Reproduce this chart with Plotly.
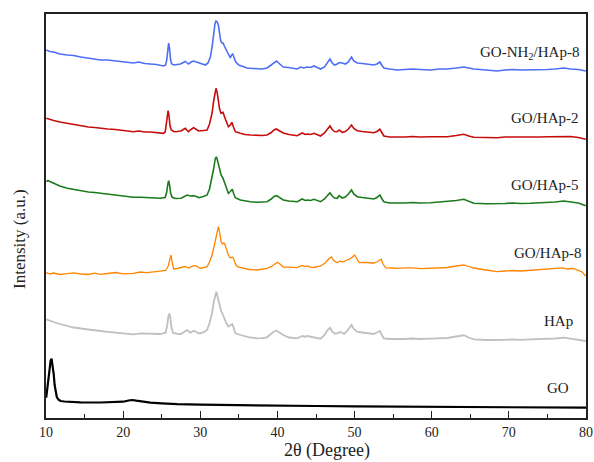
import plotly.graph_objects as go

# ---- data (2θ in degrees, intensity in a.u., already stacked) ----
blue_x = [10.0, 10.5, 11.0, 11.8, 12.75, 13.6, 14.5, 15.5, 16.3, 17.06, 18.0, 19.0, 20.0, 21.33, 22.0, 22.8, 23.5, 24.3, 25.22, 25.5, 25.65, 25.8, 25.9, 26.02, 26.15, 26.3, 26.6, 27.0, 27.42, 27.8, 28.07, 28.3, 28.46, 28.8, 29.14, 29.5, 30.01, 30.4, 30.66, 31.0, 31.31, 31.55, 31.73, 31.9, 32.04, 32.2, 32.34, 32.5, 32.65, 32.8, 32.95, 33.15, 33.38, 33.6, 33.9, 34.05, 34.2, 34.4, 34.6, 35.0, 35.5, 36.06, 36.8, 37.35, 38.0, 38.65, 39.2, 39.6, 39.89, 40.3, 40.76, 41.4, 42.06, 42.57, 43.0, 43.4, 43.87, 44.3, 44.74, 45.2, 45.59, 46.1, 46.5, 46.81, 47.1, 47.4, 47.75, 48.0, 48.4, 48.8, 49.2, 49.6, 49.9, 50.34, 51.0, 51.5, 52.0, 52.5, 52.9, 53.28, 53.6, 53.8, 54.5, 55.53, 56.5, 57.5, 58.5, 59.84, 61.0, 62.0, 63.2, 64.16, 64.8, 65.46, 67.0, 68.48, 69.5, 70.5, 71.5, 72.79, 74.0, 75.0, 76.0, 77.12, 78.0, 79.0, 79.97]
blue_y = [368, 366.5, 366, 364, 363, 362.5, 361, 360, 359.5, 358, 358, 357, 356.5, 355, 356, 354.5, 354, 353.5, 352, 353, 358, 369, 375, 369, 358, 354, 353, 353.5, 354, 355.5, 356.5, 355, 354, 356, 357, 356, 355, 354, 353, 355, 361, 372, 385, 394, 397, 396, 393, 384, 377, 375, 375, 371.5, 368, 363, 360, 363, 364, 360, 356, 353, 351.5, 350, 349.5, 349, 349, 350, 353, 356, 357, 354, 351, 350.5, 350, 349, 351, 350, 351, 350.5, 352, 350, 349, 351, 355, 359, 355, 353, 354, 355.5, 355, 354, 356, 361, 357, 355, 354.5, 354, 353.5, 353, 354, 356, 352, 350, 349, 348, 348.5, 349, 348.5, 348, 349, 349, 350, 351, 350, 349, 348, 347, 348, 348.5, 348, 348, 348.5, 348.5, 349, 350, 349, 348.5, 347]

red_x = [10.03, 10.5, 11.0, 11.8, 12.75, 13.6, 14.5, 15.5, 16.3, 17.06, 18.0, 19.0, 20.0, 21.33, 22.0, 22.8, 23.5, 24.3, 25.22, 25.45, 25.6, 25.72, 25.83, 25.95, 26.08, 26.25, 26.6, 27.0, 27.5, 27.8, 28.07, 28.3, 28.46, 28.8, 29.14, 29.5, 29.8, 30.4, 30.88, 31.2, 31.53, 31.75, 31.9, 32.04, 32.2, 32.34, 32.5, 32.7, 32.95, 33.15, 33.38, 33.64, 33.9, 34.1, 34.3, 34.54, 35.19, 35.8, 36.5, 37.35, 38.0, 38.65, 39.2, 39.55, 39.85, 40.3, 40.76, 41.5, 42.57, 43.2, 43.6, 43.87, 44.3, 44.74, 45.2, 45.59, 46.1, 46.5, 46.81, 47.1, 47.4, 47.75, 48.0, 48.4, 48.8, 49.2, 49.6, 49.9, 50.34, 51.0, 51.5, 52.0, 52.5, 52.9, 53.28, 53.6, 53.8, 54.5, 55.53, 56.5, 57.5, 58.5, 59.84, 61.0, 62.0, 63.2, 64.16, 64.8, 65.46, 67.0, 68.48, 69.5, 70.5, 71.5, 72.79, 74.0, 75.0, 76.0, 77.12, 78.0, 79.0, 79.97]
red_y = [299.7, 298.5, 297.5, 296, 294.7, 293.5, 292, 291, 290.5, 289.7, 289, 288.5, 287.5, 286.3, 287, 286, 286, 285.5, 284.7, 286, 293, 303, 307.3, 302, 292, 288, 286.3, 286.5, 287, 288.5, 289.7, 287.5, 286.3, 288.5, 290.3, 288.5, 287, 287.5, 288, 294, 305, 318, 326, 329.7, 325, 318, 309, 304.7, 305.7, 301, 296.3, 291.3, 293, 295.7, 291, 286.3, 284.7, 283.5, 283, 282.3, 282.5, 283, 285.5, 288, 289, 287, 285, 283.5, 282.3, 285, 283.5, 284, 283.5, 284.7, 283, 282, 285, 289, 292, 288.5, 286.5, 286.3, 288, 285.7, 286.5, 289, 293, 289.5, 287.3, 286.5, 286, 285.5, 285.3, 286.5, 288.7, 284.5, 282, 281, 280.7, 281, 281.5, 281, 281.3, 281.5, 281.3, 282.5, 283.7, 282, 280.7, 280.5, 280.3, 281, 281, 280.5, 280.7, 281, 281.3, 281.5, 282, 281.5, 280.5, 278.7]

green_x = [10.03, 10.25, 10.5, 11.0, 11.8, 12.75, 13.6, 14.5, 15.5, 16.3, 17.06, 18.0, 19.0, 20.0, 21.33, 22.24, 23.0, 24.0, 24.8, 25.45, 25.65, 25.8, 25.9, 26.02, 26.15, 26.35, 26.8, 27.5, 28.0, 28.3, 28.7, 29.14, 29.5, 29.8, 30.4, 30.88, 31.2, 31.53, 31.75, 31.92, 32.08, 32.25, 32.5, 32.7, 32.95, 33.15, 33.38, 33.64, 33.9, 34.15, 34.35, 34.54, 35.19, 35.8, 36.5, 37.35, 38.0, 38.65, 39.2, 39.55, 39.89, 40.3, 40.76, 41.5, 42.57, 43.2, 43.6, 43.87, 44.3, 44.74, 45.2, 45.59, 46.1, 46.5, 46.81, 47.1, 47.4, 47.75, 48.0, 48.4, 48.8, 49.2, 49.6, 49.9, 50.34, 51.0, 51.5, 52.0, 52.5, 52.9, 53.28, 53.6, 53.8, 54.5, 55.53, 56.5, 57.5, 58.5, 59.84, 61.0, 62.0, 63.2, 64.16, 64.8, 65.46, 67.0, 68.48, 69.5, 70.5, 71.5, 72.79, 74.0, 75.0, 76.0, 77.12, 78.0, 79.0, 79.97]
green_y = [236.3, 237.5, 236.5, 234.5, 232, 229.7, 228.5, 227, 226, 225.5, 224.7, 223.5, 222.5, 222, 220.7, 220.7, 220.5, 220, 219.7, 220.5, 226, 234, 237.3, 233, 225, 220.7, 219.5, 219.7, 221.5, 223, 222, 222.3, 221.5, 220.3, 221.5, 223, 229, 239.7, 250, 258.5, 261.3, 257, 249.7, 243, 239.7, 235, 231.3, 224.7, 226.5, 228.7, 224, 220.3, 218, 217, 216.3, 215.7, 215.8, 216.3, 219, 221.5, 222.3, 220, 218, 217, 216.3, 219, 217.5, 218, 217.5, 218.7, 217, 216.3, 219, 223, 225.3, 222, 220, 219.7, 222.3, 220, 221, 224, 228, 224, 221.3, 220.5, 220, 219.5, 219, 220.5, 223, 218.5, 216.3, 215, 214.7, 215, 215.5, 215, 215.3, 216, 216.3, 217.5, 218.7, 216.5, 214.7, 214.3, 214, 214.5, 215, 214.5, 214.7, 215, 215.5, 216, 217, 216, 215, 212.3]

orange_x = [10.03, 10.5, 11.0, 11.8, 12.75, 13.6, 14.5, 15.5, 16.3, 17.06, 18.0, 19.0, 20.0, 21.33, 22.2, 23.0, 24.0, 24.8, 25.5, 25.85, 26.05, 26.2, 26.35, 26.55, 27.0, 27.5, 28.0, 28.5, 29.0, 29.4, 30.0, 30.5, 30.88, 31.2, 31.53, 31.8, 32.0, 32.2, 32.34, 32.5, 32.7, 32.85, 33.0, 33.15, 33.3, 33.64, 33.9, 34.15, 34.3, 34.55, 34.8, 35.5, 36.3, 37.35, 38.0, 38.65, 39.3, 39.7, 40.0, 40.4, 40.76, 41.5, 42.57, 43.2, 43.6, 43.87, 44.3, 44.74, 45.2, 45.59, 46.2, 46.7, 47.0, 47.3, 47.75, 48.1, 48.4, 48.9, 49.5, 50.0, 50.3, 50.6, 51.5, 52.1, 52.5, 53.0, 53.45, 53.7, 54.0, 54.8, 55.53, 56.5, 57.5, 58.6, 59.84, 61.0, 62.0, 63.2, 64.16, 64.8, 65.46, 67.0, 68.48, 69.5, 70.5, 71.5, 72.79, 74.0, 75.0, 76.0, 77.0, 77.5, 78.3, 79.0, 79.5, 79.97]
orange_y = [145.3, 144, 145, 143.5, 144.3, 145.2, 144, 143.5, 144.8, 143.7, 144.5, 145.5, 144.2, 144.7, 146, 145.3, 146.2, 146.5, 147.5, 152, 159, 163, 156, 149, 149.5, 150.3, 151.5, 150, 151.8, 152.3, 149.7, 150.5, 151.3, 156, 163, 172, 180, 188, 191.3, 186, 176.3, 174, 175, 174.5, 171.3, 163, 160, 161, 159.7, 154, 151.3, 149.7, 148.5, 148, 148.5, 149.7, 152, 154.5, 155.7, 153.5, 151, 150.8, 150.3, 152.5, 151.3, 152, 150.8, 150.5, 151.5, 152, 155, 159.5, 161, 157.5, 155.3, 157, 156, 157.5, 159.5, 163, 158.5, 155.3, 155.5, 154.8, 155, 156.5, 158.7, 154, 150.3, 150, 149.7, 150.2, 150.2, 149.4, 149.7, 150.3, 150.5, 152, 153, 151.5, 150, 148, 146.3, 147, 147.5, 147, 147.7, 148.5, 149.2, 149.7, 150.2, 149, 149.5, 147.7, 146, 142]

gray_x = [10.03, 10.5, 11.0, 11.8, 12.75, 13.6, 14.5, 15.5, 16.3, 17.06, 18.0, 19.0, 20.0, 21.33, 22.24, 23.0, 24.0, 24.8, 25.5, 25.7, 25.85, 26.0, 26.12, 26.25, 26.45, 27.0, 27.5, 28.0, 28.3, 28.7, 29.14, 29.5, 29.8, 30.4, 30.88, 31.2, 31.53, 31.75, 31.92, 32.08, 32.25, 32.5, 32.7, 32.95, 33.15, 33.38, 33.64, 33.9, 34.15, 34.35, 34.54, 35.19, 35.8, 36.5, 37.35, 38.0, 38.65, 39.2, 39.55, 39.89, 40.3, 40.76, 41.5, 42.57, 43.2, 43.6, 43.87, 44.3, 44.74, 45.2, 45.59, 46.1, 46.5, 46.81, 47.1, 47.4, 47.75, 48.18, 48.66, 49.1, 49.6, 49.9, 50.34, 51.0, 51.5, 52.0, 52.5, 52.9, 53.28, 53.6, 53.8, 54.5, 55.53, 56.5, 57.5, 58.5, 59.84, 61.0, 62.0, 63.2, 64.16, 64.8, 65.46, 67.0, 68.48, 69.5, 70.5, 71.5, 72.79, 74.0, 75.0, 76.0, 77.12, 78.0, 79.0, 79.97]
gray_y = [98.7, 97, 96, 94, 92, 90.5, 89.5, 88.3, 87.7, 87, 86.2, 85.5, 84.7, 83.7, 84.7, 84.5, 84.2, 84, 85.3, 92, 101, 104.7, 100, 91, 85.3, 84.2, 84, 86.5, 88, 85.3, 87.3, 86, 84.5, 85.5, 88, 95, 105, 116, 123.5, 126.3, 121, 113, 107, 103, 98.5, 94.7, 91.5, 92.5, 94, 89.5, 84.7, 83, 81.5, 80.5, 79.7, 79.8, 80.7, 84, 86.5, 87.3, 85, 83, 80.5, 79.7, 82, 81.3, 82, 81.5, 81, 80, 79.3, 83, 88, 90.3, 86.5, 84.5, 84.7, 86, 84, 87.5, 93, 89, 86.3, 85.5, 85, 84.5, 84, 85.5, 87, 82, 79.7, 79, 78.7, 79, 79.5, 79, 79.3, 79.8, 80, 81.5, 82.7, 80.5, 78.7, 78, 77.7, 78.2, 78.5, 78.2, 78.7, 79, 79, 79.5, 80.3, 79.5, 78.5, 77]

black_x = [10.03, 10.15, 10.3, 10.45, 10.6, 10.72, 10.85, 11.0, 11.12, 11.25, 11.4, 11.6, 11.88, 12.4, 13.0, 14.47, 17.06, 19.0, 20.0, 20.7, 21.16, 21.7, 22.5, 23.53, 25.0, 27.0, 30.0, 35.0, 40.0, 45.0, 50.0, 60.0, 70.0, 80.0]
black_y = [20.3, 28, 38, 50, 57.5, 59.3, 54, 44, 33, 25, 21, 18.5, 17, 16.5, 16.2, 15.7, 15.5, 15.6, 16.3, 17.5, 18, 17.3, 16.2, 15.3, 14.7, 13.8, 13.3, 12.7, 12.3, 12, 11.7, 11.3, 11, 10.3]

series_names = ["GO-NH<sub>2</sub>/HAp-8", "GO/HAp-2", "GO/HAp-5", "GO/HAp-8", "HAp", "GO"]
series_colors = ["rgb(77,110,245)", "rgb(200,12,12)", "rgb(28,122,28)", "rgb(255,132,0)", "rgb(192,192,192)", "rgb(0,0,0)"]
series_x = [blue_x, red_x, green_x, orange_x, gray_x, black_x]
series_y = [blue_y, red_y, green_y, orange_y, gray_y, black_y]
series_width = [1.6, 1.6, 1.6, 1.3, 1.8, 2.2]
label_pos = [(0.8946, 0.9035), (0.9236, 0.7426), (0.9236, 0.5767), (0.9288, 0.4092), (0.9495, 0.2401), (0.9473, 0.075)]

FONT = "Liberation Serif, Times New Roman, serif"

fig = go.Figure()
for xs, ys, c, w in zip(series_x, series_y, series_colors, series_width):
    fig.add_trace(go.Scatter(x=xs, y=ys, mode="lines", line=dict(color=c, width=w),
                             showlegend=False, hoverinfo="skip"))

annotations = []
for name, (px, py) in zip(series_names, label_pos):
    annotations.append(dict(text=name, x=px, y=py, xref="paper", yref="paper",
                            showarrow=False, xanchor="center", yanchor="middle",
                            font=dict(family=FONT, size=15, color="#222")))
annotations.append(dict(text="2θ (Degree)", x=0.521, y=-0.081, xref="paper", yref="paper",
                        showarrow=False, xanchor="center", yanchor="middle",
                        font=dict(family=FONT, size=18, color="#222")))
annotations.append(dict(text="Intensity (a.u.)", x=-0.049, y=0.442, xref="paper", yref="paper",
                        showarrow=False, xanchor="center", yanchor="middle", textangle=-90,
                        font=dict(family=FONT, size=17, color="#222")))

fig.update_layout(
    width=594, height=462,
    margin=dict(l=45.5, r=8, t=14, b=44),
    paper_bgcolor="white", plot_bgcolor="white",
    annotations=annotations,
    xaxis=dict(range=[10, 80], tick0=10, dtick=10, ticks="inside", ticklen=7, tickwidth=1.3,
               tickcolor="#222", showline=True, linecolor="#222", linewidth=1.5, mirror=True,
               showgrid=False, zeroline=False, automargin=False,
               tickfont=dict(family=FONT, size=14, color="#222"),
               minor=dict(dtick=5, tick0=10, ticks="inside", ticklen=4, tickwidth=1.2, tickcolor="#222", showgrid=False)),
    yaxis=dict(range=[0, 404], showticklabels=False, ticks="", showline=True, linecolor="#222",
               linewidth=1.5, mirror=True, showgrid=False, zeroline=False, automargin=False),
)

fig.write_html("out.html")
